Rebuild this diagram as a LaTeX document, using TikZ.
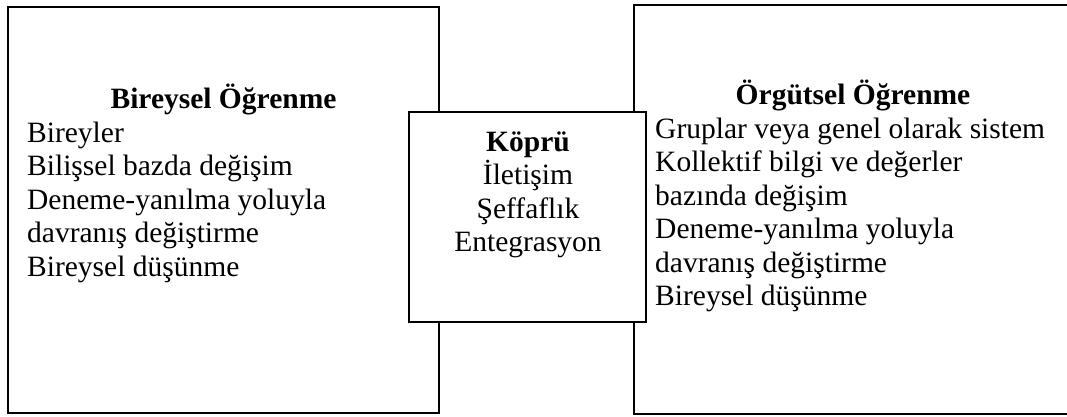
\documentclass[tikz,border=0pt]{standalone}
\usepackage{fontspec}
\setmainfont{Liberation Serif}
\tikzset{
  boxframe/.style={draw, line width=2pt, rectangle, inner sep=0pt, outer sep=0pt, anchor=north west},
  linetxt/.style={inner sep=0pt, font=\fontsize{29.5}{33.5}\selectfont},
  titletxt/.style={inner sep=0pt, font=\fontsize{29.5}{33.5}\selectfont\bfseries},
}
\begin{document}
\begin{tikzpicture}[x=1pt,y=-1pt]
\clip (0,0) rectangle (1067,417);
\fill[white] (0,0) rectangle (1067,417);
% outer boxes
\node[boxframe, minimum width=431pt, minimum height=406pt] (left) at (8,7) {};
\node[boxframe, minimum width=434pt, minimum height=409pt] (right) at (634,5) {};
% bridge box
\node[boxframe, fill=white, minimum width=237pt, minimum height=210pt] (bridge) at (409,112) {};
% left text
\node[titletxt, anchor=base] (lt) at (223.5,109) {Bireysel Öğrenme};
\foreach \t [count=\i] in {Bireyler, Bilişsel bazda değişim, Deneme-yanılma yoluyla, davranış değiştirme, Bireysel düşünme}
  \node[linetxt, anchor=base west] (l\i) at (27,{142+33.5*(\i-1)}) {\t};
% right text
\node[titletxt, anchor=base] (rt) at (853,105) {Örgütsel Öğrenme};
\foreach \t [count=\i] in {Gruplar veya genel olarak sistem, Kollektif bilgi ve değerler, bazında değişim, Deneme-yanılma yoluyla, davranış değiştirme, Bireysel düşünme}
  \node[linetxt, anchor=base west] (r\i) at (655,{138+33.5*(\i-1)}) {\t};
% bridge text
\node[titletxt, anchor=base] (bt) at (528,151) {Köprü};
\foreach \t [count=\i] in {İletişim, Şeffaflık, Entegrasyon}
  \node[linetxt, anchor=base] (b\i) at (528,{151+33.5*\i}) {\t};
\end{tikzpicture}
\end{document}
